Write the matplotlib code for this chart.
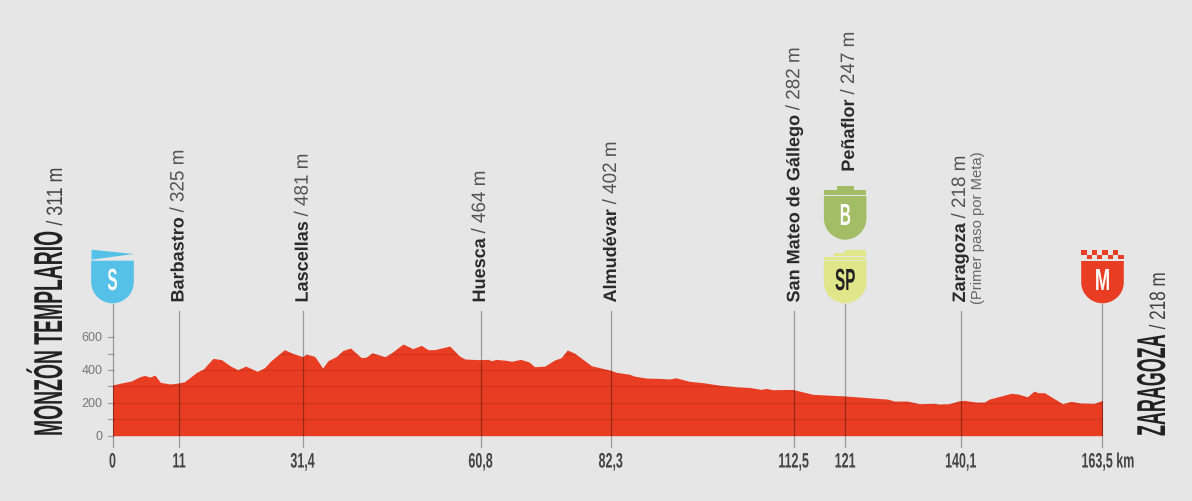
import matplotlib
matplotlib.use('Agg')
import matplotlib.pyplot as plt
from matplotlib.patches import PathPatch, Polygon, Rectangle
from matplotlib.patheffects import AbstractPathEffect
from matplotlib.path import Path
from matplotlib.transforms import Affine2D, Bbox

# profile: km, metres
km = [0, 1.2, 3.1, 4.5, 5.3, 6.2, 7.0, 7.9, 9.5, 10.9, 11.9, 13.9, 15, 16.6, 18, 19.4, 20.7, 22, 23.9, 25.1,
      26.2, 28.4, 29.8, 31.4, 32, 33.4, 34.7, 35.6, 37, 38, 39.3, 41.1, 41.9, 42.9, 45, 46, 47.4, 48, 49.6, 51,
      52.1, 53.2, 55.7, 57.3, 58.2, 60.6, 62, 62.6, 63.4, 65, 65.9, 67.4, 68.8, 69.7, 71.4, 73, 74.1, 75.1, 76.3, 77.4,
      79.1, 82.3, 83.2, 85.4, 86.2, 88.1, 90.3, 92, 93, 95.3, 97.5, 100.2, 103, 105.2, 107.1, 108, 109, 112.3, 115.65, 120.9,
      128, 129.1, 131.3, 133.25, 135.7, 136.55, 138.2, 139.85, 140.7, 142.6, 144, 144.8, 148.4, 149.5, 151.1, 152.2, 152.8, 153.9, 156.9, 158.3,
      159.9, 162.1, 163.5]
elev = [309, 319, 333, 359, 367, 357, 369, 325, 315, 321, 329, 386, 406, 471, 463, 426, 402, 424, 392, 414,
        457, 524, 501, 481, 497, 483, 412, 457, 483, 518, 534, 475, 479, 505, 481, 503, 542, 558, 530, 550,
        524, 524, 546, 485, 467, 463, 465, 457, 465, 459, 453, 465, 449, 420, 424, 461, 475, 522, 503, 473,
        426, 398, 386, 374, 363, 351, 349, 345, 353, 331, 323, 308, 298, 294, 282, 288, 280, 282, 252, 242,
        223, 211, 211, 195, 197, 193, 195, 213, 215, 205, 205, 223, 258, 254, 237, 272, 262, 262, 195, 209,
        199, 197, 215]

stops_km = [0, 11, 31.4, 60.8, 82.3, 112.5, 121, 140.1, 163.5]
stops_lab = ['0', '11', '31,4', '60,8', '82,3', '112,5', '121', '140,1', '163,5 km']
y_labels = [0, 200, 400, 600]
y_minor = [100, 300, 500]

places = ['Barbastro', 'Lascellas', 'Huesca', 'Almudévar', 'San Mateo de Gállego', 'Peñaflor', 'Zaragoza']
heights = ['325', '481', '464', '402', '282', '247', '218']

BG = '#e6e6e6'
RED = '#e83d22'
W, H = 1192, 502
X0, PX_KM = 112.5, 6.055
Y0, PX_M = 436.7, 0.1642
SANS = 'Liberation Sans'


class Squeeze(AbstractPathEffect):
    # no condensed font installed, so narrow the glyphs along the baseline
    def __init__(self, sx, center=False):
        super().__init__()
        self.sx = sx
        self.center = center

    def draw_path(self, renderer, gc, tpath, affine, rgbFace=None):
        t = Affine2D().scale(self.sx, 1)
        if self.center:
            ext = tpath.get_extents()
            t = t.translate((ext.x0 + ext.x1) / 2 * (1 - self.sx), 0)
        renderer.draw_path(gc, tpath, t + affine, rgbFace)


def narrow(t, sx, center=False):
    # squeeze a text and make its reported box follow what is drawn
    t.set_path_effects([Squeeze(sx, center)])
    full = t.get_window_extent

    def extent(renderer=None, dpi=None):
        b = full(renderer, dpi)
        if t.get_rotation() == 90:
            return Bbox.from_extents(b.x0, b.y0, b.x1, b.y0 + b.height * sx)
        if center:
            mid = (b.x0 + b.x1) / 2
            return Bbox.from_extents(mid - b.width * sx / 2, b.y0, mid + b.width * sx / 2, b.y1)
        return Bbox.from_extents(b.x0, b.y0, b.x0 + b.width * sx, b.y1)

    t.get_window_extent = extent
    return t


fig = plt.figure(figsize=(W / 100, H / 100), dpi=100, facecolor=BG)

# profile axes, placed so that km and metres land on the reference pixels
ax = fig.add_axes([X0 / W, (H - Y0) / H, 163.5 * PX_KM / W, 100 / H])
ax.set_xlim(0, 163.5)
ax.set_ylim(0, 100 / PX_M)
ax.axis('off')
area = ax.fill_between(km, elev, 0, color=RED, lw=0, zorder=2)
for v in y_labels + y_minor:
    ax.plot([-0.75, 0], [v, v], color='#a0a0a0', lw=0.9, clip_on=False, zorder=1)
    if v > 0:
        grid, = ax.plot([0, 163.5], [v, v], color='black', alpha=0.1, lw=0.9, zorder=3)
        grid.set_clip_path(area.get_paths()[0], ax.transData)

# stems: the ones carrying a badge run higher
for s in stops_km:
    top = 800 if s in (0, 121, 163.5) else 757
    ax.plot([s, s], [-66, top], color='black', alpha=0.33, lw=0.9, clip_on=False, zorder=4)

# overlay in pixels for text and badges
ov = fig.add_axes([0, 0, 1, 1])
ov.set_xlim(0, W)
ov.set_ylim(H, 0)
ov.axis('off')
ov.patch.set_alpha(0)
renderer = fig.canvas.get_renderer()


def vtext(x, y, s, **kw):
    # x is the baseline, y where the text starts
    return ov.text(x, y, s, rotation=90, rotation_mode='anchor', ha='left', va='baseline', family=SANS, **kw)


def stacked(x, y, name, rest, name_kw, rest_kw, gap=5, sx_name=1.0, sx_rest=1.0):
    t = vtext(x, y, name, **name_kw)
    length = t.get_window_extent(renderer).height * sx_name
    narrow(t, sx_name)
    narrow(vtext(x, y - length - gap, rest, **rest_kw), sx_rest)


name_kw = dict(fontweight='bold', fontsize=13, color='#2b2b2b')
rest_kw = dict(fontsize=14, color='#555555')
label_x = [183.5, 307.7, 485, 616, 799.3, 854, 965]
label_y = [303.5, 303.5, 303.5, 303.5, 303.5, 172.7, 303.5]
for x, y, p, h in zip(label_x, label_y, places, heights):
    stacked(x, y, p, '/ ' + h + ' m', name_kw, rest_kw, sx_rest=0.97)
vtext(981.7, 304, '(Primer paso por Meta)', fontsize=10.6, color='#666666')

big_kw = dict(fontweight='bold', fontsize=29, color='#222222')
big_rest = dict(fontsize=16, color='#444444')
stacked(62, 437, 'MONZÓN TEMPLARIO', '/ 311 m', big_kw, big_rest, sx_name=0.48, sx_rest=0.8)
stacked(1165, 437, 'ZARAGOZA', '/ 218 m', big_kw, big_rest, sx_name=0.445, sx_rest=0.77)

# axis labels
for s, lab in zip(stops_km, stops_lab):
    x = X0 + s * PX_KM
    if lab.endswith('km'):
        narrow(ov.text(x - 21, 463, lab, ha='left', va='center', family=SANS, fontweight='bold',
                       fontsize=15, color='#444444'), 0.6)
    else:
        narrow(ov.text(x, 463, lab, ha='center', va='center', family=SANS, fontweight='bold',
                       fontsize=15, color='#444444'), 0.6, center=True)
for v in y_labels:
    ov.text(102.5, Y0 - v * PX_M, str(v), ha='right', va='center', family=SANS, fontsize=9, color='#777777')


def shield(cx, top, bottom, color):
    w = 21.3
    mid = top + (bottom - top) * 0.5
    verts = [(cx - w, top), (cx + w, top), (cx + w, mid),
             (cx + w, bottom - 8), (cx + 10, bottom), (cx, bottom),
             (cx - 10, bottom), (cx - w, bottom - 8), (cx - w, mid), (cx - w, top)]
    codes = [Path.MOVETO, Path.LINETO, Path.LINETO, Path.CURVE4, Path.CURVE4, Path.CURVE4,
             Path.CURVE4, Path.CURVE4, Path.CURVE4, Path.CLOSEPOLY]
    ov.add_patch(PathPatch(Path(verts, codes), fc=color, ec='none', zorder=5))


def badge_text(cx, y, s, color='white', sx=0.5):
    narrow(ov.text(cx, y, s, ha='center', va='center', family=SANS, fontweight='bold', fontsize=22,
                   color=color, zorder=6), sx, center=True)


BLUE, GREEN, YELLOW = '#55c1e9', '#a3bd66', '#e1e68b'
cx = X0
shield(cx, 261.7, 304.3, BLUE)
ov.add_patch(Polygon([(cx - 21, 250.7), (cx + 21, 255), (cx - 21, 260.7)], fc=BLUE, ec='none', zorder=5))
badge_text(cx, 283, 'S')

cx = X0 + 121 * PX_KM
shield(cx, 197, 240.7, GREEN)
ov.add_patch(Rectangle((cx - 21.3, 190.5), 42.6, 5.5, fc=GREEN, ec='none', zorder=5))
ov.add_patch(Rectangle((cx - 8.5, 187), 17, 4, fc=GREEN, ec='none', zorder=5))
badge_text(cx, 218, 'B')

shield(cx, 261.7, 304.3, YELLOW)
ov.add_patch(Rectangle((cx - 21.3, 257.5), 42.6, 3.2, fc=YELLOW, ec='none', zorder=5))
ov.add_patch(Rectangle((cx - 11, 254), 32.3, 2.8, fc=YELLOW, ec='none', zorder=5))
ov.add_patch(Rectangle((cx + 0, 250.7), 21.3, 2.8, fc=YELLOW, ec='none', zorder=5))
badge_text(cx, 283, 'SP', '#222222')

cx = X0 + 163.5 * PX_KM
shield(cx, 262, 304.3, RED)
cell = 42.6 / 8
for c in range(8):
    ov.add_patch(Rectangle((cx - 21.3 + c * cell, 251 if c % 2 == 0 else 255.7), cell, 4.7,
                           fc=RED, ec='none', zorder=5))
badge_text(cx, 283, 'M', sx=0.6)

fig.savefig('out.png', dpi=100, facecolor=BG)
